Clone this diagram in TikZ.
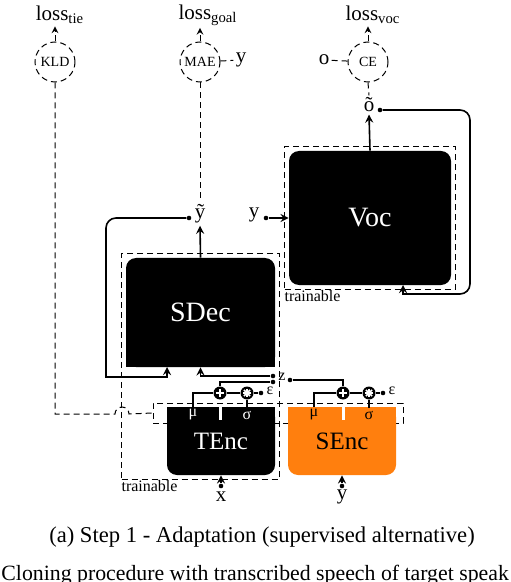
\documentclass[tikz,border=0pt]{standalone}
\usepackage{fontspec}
\setmainfont{Liberation Serif}
\usetikzlibrary{arrows,positioning,fit}
\definecolor{encorange}{RGB}{255,127,14}

\tikzset{
  wire/.style={line width=0.8pt},
  dashwire/.style={densely dashed,line width=0.5pt},
  lossnode/.style={circle,draw,densely dashed,line width=0.5pt,minimum size=20pt,inner sep=0pt,font=\fontsize{7}{8}\selectfont},
  pin/.style={circle,fill,inner sep=0pt,minimum size=2.3pt},
  sig/.style={inner sep=1pt,font=\fontsize{10.5}{12}\selectfont},
  small/.style={inner sep=1pt,font=\fontsize{8}{9}\selectfont},
  blockbox/.style={fill=black,text=white,rounded corners=5pt,inner sep=0pt,font=\fontsize{14}{16}\selectfont},
  trainbox/.style={draw,densely dashed,line width=0.45pt,inner sep=2pt},
  sumop/.style={circle,fill=black,minimum size=6.5pt,inner sep=0pt,
    path picture={\draw[white,line width=1pt] ([xshift=-2.1pt]path picture bounding box.center) -- ([xshift=2.1pt]path picture bounding box.center);
      \draw[white,line width=1pt] ([yshift=-2.1pt]path picture bounding box.center) -- ([yshift=2.1pt]path picture bounding box.center);}},
  mulop/.style={circle,fill=black,minimum size=6.5pt,inner sep=0pt,
    path picture={\foreach \ang in {0,45,90,135}{
      \draw[white,line width=0.8pt] ([shift={(\ang:2.2pt)}]path picture bounding box.center) -- ([shift={(\ang+180:2.2pt)}]path picture bounding box.center);}}}
}

\begin{document}
\begin{tikzpicture}[x={(0.5pt,0)},y={(0,-0.5pt)},>=stealth]
\useasboundingbox (0,0) rectangle (510,582);

% losses
\node[lossnode] (kld) at (55,62) {KLD};
\node[lossnode] (mae) at (200,62) {MAE};
\node[lossnode] (ce) at (368,62) {CE};
\node[sig] (ltie) at (60,15) {loss\textsubscript{tie}};
\node[sig] (lgoal) at (208,15) {loss\textsubscript{goal}};
\node[sig] (lvoc) at (373,15) {loss\textsubscript{voc}};
\draw[dashwire,->] (kld.north) -- (kld.north |- ltie.south);
\draw[dashwire,->] (mae.north) -- (mae.north |- lgoal.south);
\draw[dashwire,->] (ce.north) -- (ce.north |- lvoc.south);
\node[sig] (ymae) at (241,60) {y};
\draw[dashwire] (mae) -- (ymae);
\node[sig] (oce) at (324,60) {o};
\draw[dashwire] (oce) -- (ce);

% vocoder
\node[blockbox,minimum width=81pt,minimum height=67pt] (voc) at (370,218) {Voc};
\node[trainbox,fit=(voc)] (vocbox) {};
\node[small,anchor=north west,inner sep=0pt] (voctrain) at (vocbox.south west) {trainable};
\node[sig] (otil) at (369,105) {\~o};
\node[pin] (opin) at (380,110) {};
\draw[dashwire] (ce.south) -- (otil.north);
\draw[wire,->] (voc.north) -- (otil.south);
\node[sig] (yvoc) at (254,215) {y};
\node[pin] (yvocpin) at (266,218) {};
\draw[wire,->] (yvocpin) -- (voc.west);
\coordinate (vocin) at (403,285);
\draw[wire,->] (opin) [rounded corners=5pt] -| (470,250) -- (470,294) -- (440,294) [sharp corners] -- (403,294) -- (vocin);

% decoder
\node[blockbox,minimum width=74.5pt,minimum height=54.5pt] (sdec) at (200.5,312.5) {SDec};
\fill (sdec.south west) rectangle ([yshift=8pt]sdec.south east);
\node[sig] (ytil) at (200,214) {\~y};
\node[pin] (ytpin) at (189,218) {};
\draw[dashwire] (mae.south) -- (ytil.north);
\draw[wire,->] (sdec.north) -- (ytil.south);
\coordinate (sdecin) at (167,367);
\draw[wire,->] (ytpin) [rounded corners=5pt] -| (106,320) [sharp corners] |- (167,377) -- (sdecin);

% latent area
\node[dashwire,draw,minimum width=125pt,minimum height=10pt,inner sep=0pt] (latent) at (278,413) {};
\draw[dashwire] (kld.south) |- (115,414) arc[start angle=180,end angle=0,radius=3.5pt] -- (latent.west);

% encoders
\node[blockbox,minimum width=54pt,minimum height=34pt,font=\fontsize{12.5}{14}\selectfont] (tenc) at (221,441) {TEnc};
\fill (tenc.north west) rectangle ([yshift=-8pt]tenc.north east);
\node[blockbox,fill=encorange,text=black,minimum width=54pt,minimum height=34pt,font=\fontsize{12.5}{14}\selectfont] (senc) at (342,441) {SEnc};
\fill[encorange] (senc.north west) rectangle ([yshift=-8pt]senc.north east);
\node[trainbox,fit=(sdec)(tenc)] (decbox) {};
\node[small,anchor=north west,inner sep=0pt] (dectrain) at (decbox.south west) {trainable};
\draw[white,line width=1.5pt] (220,407) -- (220,420);
\draw[white,line width=1.5pt] (343,407) -- (343,420);

% sampling
\node[small,text=white] (tmu) at (193,415) {μ};
\node[small,text=white] (tsig) at (247,415) {σ};
\node[small] (smu) at (314,415) {μ};
\node[small] (ssig) at (369,415) {σ};
\node[sumop] (tplus) at (220,393) {};
\node[mulop] (tstar) at (247,393) {};
\node[sumop] (splus) at (343,393) {};
\node[mulop] (sstar) at (369,393) {};
\node[pin] (tepin) at (261,393) {};
\node[pin] (sepin) at (383,393) {};
\node[small] (teps) at (270,391) {ε};
\node[small] (seps) at (392,391) {ε};
\draw[wire] (tplus) -- (tstar) -- (tepin);
\draw[wire] (splus) -- (sstar) -- (sepin);
\draw[wire] (tplus) -| (tmu.north);
\draw[wire] (splus) -| (smu.north);
\draw[wire] (tstar) -- (tsig.north);
\draw[wire] (sstar) -- (ssig.north);

% z
\node[small] (z) at (282,377) {z};
\node[pin] (zup) at (273,376) {};
\node[pin] (zdn) at (273,382) {};
\node[pin] (zout) at (290,380) {};
\draw[wire,->] (zup) -| (sdec.south);
\draw[wire] (tplus) |- (zdn);
\draw[wire] (zout) -| (splus);

% inputs
\node[sig] (xin) at (221,497) {x};
\node[pin] (xpin) at (221,486) {};
\draw[wire,->] (xpin) -- (tenc.south);
\node[sig] (yin) at (342,497) {y};
\node[pin] (ypin) at (342,486) {};
\draw[wire,->] (ypin) -- (senc.south);

% caption
\node[font=\fontsize{11.3}{13}\selectfont] (cap) at (262,537) {(a) Step 1 - Adaptation (supervised alternative)};
\node[font=\fontsize{10.9}{13}\selectfont,anchor=west,inner sep=0pt] (figcap) at (1,575) {Cloning procedure with transcribed speech of target speak};
\end{tikzpicture}
\end{document}
